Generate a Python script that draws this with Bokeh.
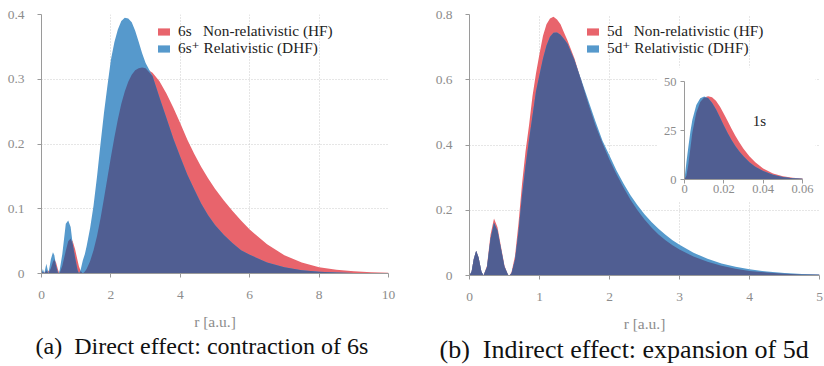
import numpy as np
from bokeh.plotting import figure
from bokeh.layouts import row
from bokeh.models import (Range1d, LinearAxis, FixedTicker, Legend, LegendItem,
                          Label, Title)
from bokeh.embed import file_html
from bokeh.resources import INLINE

# ---------------- data ----------------
# (a) 6s radial density
r_6s = [0, 0.04, 0.08, 0.14, 0.2, 0.27, 0.33, 0.37, 0.42, 0.48, 0.52, 0.6, 0.7,
        0.77, 0.84, 0.9, 0.97, 1.04, 1.08, 1.13, 1.19, 1.25, 1.3, 1.4, 1.5, 1.6,
        1.7, 1.8, 1.9, 2.0, 2.1, 2.2, 2.3, 2.4, 2.5, 2.6, 2.7, 2.8, 2.9, 3.0,
        3.2, 3.4, 3.6, 3.8, 4.0, 4.2, 4.4, 4.6, 4.8, 5.0, 5.25, 5.5, 5.75, 6.0,
        6.5, 7.0, 7.5, 8.0, 8.5, 9.0, 9.5, 10.0]
hf_6s = [0, 0.003, 0.001, 0.005, 0.004, 0.008, 0.018, 0.022, 0.017, 0.005, 0,
         0.012, 0.035, 0.05, 0.054, 0.05, 0.037, 0.02, 0.011, 0.004, 0, 0.003,
         0.007, 0.019, 0.036, 0.058, 0.085, 0.116, 0.148, 0.18, 0.21, 0.238,
         0.262, 0.281, 0.296, 0.307, 0.314, 0.317, 0.318, 0.317, 0.31, 0.297,
         0.278, 0.256, 0.232, 0.207, 0.185, 0.165, 0.147, 0.131, 0.113, 0.097,
         0.082, 0.068, 0.045, 0.028, 0.017, 0.0098, 0.0058, 0.0035, 0.002, 0.001]
dhf_6s = [0, 0.007, 0, 0.015, 0, 0.022, 0.033, 0.028, 0.012, 0, 0.004, 0.03,
          0.077, 0.082, 0.072, 0.045, 0.024, 0.005, 0, 0.006, 0.02, 0.03, 0.042,
          0.07, 0.105, 0.15, 0.2, 0.248, 0.29, 0.33, 0.357, 0.377, 0.39, 0.395,
          0.394, 0.388, 0.375, 0.358, 0.34, 0.325, 0.305, 0.272, 0.24, 0.208,
          0.18, 0.153, 0.13, 0.108, 0.09, 0.075, 0.06, 0.047, 0.036, 0.029,
          0.017, 0.0095, 0.005, 0.0028, 0.0015, 0.0008, 0.0004, 0.0002]

# (b) 5d radial density
r_5d = [0, 0.03, 0.06, 0.095, 0.13, 0.17, 0.2, 0.25, 0.3, 0.35, 0.4, 0.45, 0.5,
        0.55, 0.57, 0.6, 0.65, 0.7, 0.75, 0.8, 0.85, 0.9, 0.95, 1.0, 1.05, 1.1,
        1.15, 1.2, 1.25, 1.3, 1.35, 1.4, 1.5, 1.6, 1.7, 1.8, 1.9, 2.0, 2.1, 2.2,
        2.3, 2.4, 2.5, 2.6, 2.7, 2.8, 2.9, 3.0, 3.2, 3.4, 3.6, 3.8, 4.0, 4.25,
        4.5, 4.75, 5.0]
hf_5d = [0, 0.012, 0.05, 0.076, 0.055, 0.012, 0, 0.03, 0.125, 0.175, 0.148,
         0.088, 0.03, 0.002, 0, 0.01, 0.06, 0.16, 0.28, 0.38, 0.46, 0.55, 0.62,
         0.68, 0.735, 0.77, 0.788, 0.793, 0.785, 0.77, 0.745, 0.72, 0.665,
         0.595, 0.525, 0.46, 0.405, 0.355, 0.31, 0.27, 0.232, 0.2, 0.172,
         0.147, 0.126, 0.108, 0.093, 0.08, 0.058, 0.042, 0.03, 0.021, 0.014,
         0.009, 0.0055, 0.003, 0.002]
dhf_5d = [0, 0.012, 0.05, 0.076, 0.055, 0.012, 0, 0.026, 0.113, 0.162, 0.138,
          0.082, 0.027, 0.002, 0, 0.007, 0.048, 0.135, 0.245, 0.335, 0.415,
          0.49, 0.565, 0.615, 0.665, 0.705, 0.732, 0.744, 0.745, 0.738, 0.725,
          0.71, 0.66, 0.598, 0.535, 0.472, 0.413, 0.368, 0.322, 0.282, 0.246,
          0.215, 0.188, 0.164, 0.143, 0.125, 0.108, 0.094, 0.07, 0.051, 0.037,
          0.027, 0.019, 0.012, 0.0075, 0.0045, 0.0027]

# inset: 1s radial density
r_1s = [0, 0.001, 0.002, 0.003, 0.004, 0.006, 0.008, 0.010, 0.012, 0.014,
        0.016, 0.018, 0.020, 0.022, 0.024, 0.026, 0.028, 0.030, 0.033, 0.036,
        0.040, 0.045, 0.050, 0.055, 0.060]
hf_1s = [0, 2, 8, 16, 24, 34, 39.5, 41.8, 42.5, 42, 40.2, 37.2, 33.6, 29.7,
         25.8, 22.1, 18.7, 15.7, 11.9, 8.8, 5.6, 3.1, 1.7, 0.9, 0.45]
dhf_1s = [0, 9, 17, 24.5, 30.5, 38, 41.5, 42.3, 41.6, 39.2, 35.8, 31.8, 27.6,
          23.6, 20, 16.9, 14.2, 11.8, 8.8, 6.5, 4.3, 2.4, 1.3, 0.7, 0.35]

ticks_a_x = [0, 2, 4, 6, 8, 10]
ticks_a_y = [0, 0.1, 0.2, 0.3, 0.4]
ticks_b_x = [0, 1, 2, 3, 4, 5]
ticks_b_y = [0, 0.2, 0.4, 0.6, 0.8]
ticks_in_x = [0, 0.02, 0.04, 0.06]
ticks_in_y = [0, 25, 50]

labels_a = ["6s\u00a0\u00a0\u00a0Non-relativistic (HF)", "6s\u207a Relativistic (DHF)"]
labels_b = ["5d\u00a0\u00a0\u00a0Non-relativistic (HF)", "5d\u207a Relativistic (DHF)"]
caption_a = "(a)\u00a0\u00a0Direct effect: contraction of 6s"
caption_b = "(b)\u00a0\u00a0Indirect effect: expansion of 5d"

# ---------------- style ----------------
RED = "#E8646C"
BLUE = "#5699CC"
NAVY = "#505E92"
SERIF = "'Liberation Serif', 'DejaVu Serif', serif"
TICK_TXT = "#8c8c8c"
AXIS_COL = "#9a9a9a"
GRID_COL = "#cdcdcd"


def style_axis(ax, ticks, size="13.5px"):
    ax.ticker = FixedTicker(ticks=ticks)
    ax.axis_line_color = AXIS_COL
    ax.major_tick_line_color = AXIS_COL
    ax.major_tick_in = 0
    ax.major_tick_out = 4
    ax.minor_tick_line_color = None
    ax.major_label_text_font = SERIF
    ax.major_label_text_font_size = size
    ax.major_label_text_color = TICK_TXT
    ax.major_label_overrides = {0: "0"}


def legend_row(renderer, label, loc):
    return Legend(items=[LegendItem(label=label, renderers=[renderer])],
                  location=loc, orientation="vertical",
                  glyph_width=15, glyph_height=9, label_standoff=7, spacing=0,
                  padding=0, margin=0, border_line_color=None,
                  background_fill_alpha=0, label_height=16,
                  label_text_font=SERIF, label_text_font_size="15.3px",
                  label_text_color="#222222")


def make_panel(r, hf, dhf, xr, yr, xt, yt, fw, fh, bl, br, bt, bb, labels,
               leg_x, leg_y, caption, cap_offset, cap_size):
    p = figure(frame_width=fw, frame_height=fh, min_border_left=bl,
               min_border_right=br, min_border_top=bt, min_border_bottom=bb,
               x_range=Range1d(*xr), y_range=Range1d(*yr),
               output_backend="svg", toolbar_location=None)
    p.outline_line_color = None
    p.background_fill_color = "white"
    p.border_fill_color = "white"
    style_axis(p.xaxis[0], xt)
    style_axis(p.yaxis[0], yt)
    p.xaxis[0].major_label_standoff = 13
    p.yaxis[0].major_label_standoff = 13
    p.xaxis[0].axis_label = "r [a.u.]"
    p.xaxis[0].axis_label_text_font = SERIF
    p.xaxis[0].axis_label_text_font_size = "15.5px"
    p.xaxis[0].axis_label_text_font_style = "normal"
    p.xaxis[0].axis_label_text_color = TICK_TXT
    p.xaxis[0].axis_label_standoff = 11
    for g, t in ((p.xgrid[0], xt), (p.ygrid[0], yt)):
        g.ticker = FixedTicker(ticks=t)
        g.grid_line_color = GRID_COL
        g.grid_line_dash = "1 2"
        g.grid_line_width = 1

    hf_a = np.asarray(hf, dtype=float)
    dhf_a = np.asarray(dhf, dtype=float)
    rr = p.varea(x=r, y1=0, y2=hf_a, fill_color=RED)
    rb = p.varea(x=r, y1=0, y2=dhf_a, fill_color=BLUE)
    p.varea(x=r, y1=0, y2=np.minimum(hf_a, dhf_a), fill_color=NAVY)

    p.add_layout(legend_row(rr, labels[0], (leg_x, leg_y[0])))
    p.add_layout(legend_row(rb, labels[1], (leg_x, leg_y[1])))

    p.add_layout(Title(text=caption, align="left", text_font=SERIF,
                       text_font_size=cap_size, text_font_style="normal",
                       text_color="#111111", standoff=-3, offset=cap_offset),
                 "below")
    return p


p1 = make_panel(r_6s, hf_6s, dhf_6s, (0, 10), (0, 0.4), ticks_a_x, ticks_a_y,
                347, 259, 41, 24, 14, 93, labels_a, 115, (233, 216),
                caption_a, -6, "24px")
p2 = make_panel(r_5d, hf_5d, dhf_5d, (0, 5), (0, 0.8), ticks_b_x, ticks_b_y,
                350, 261, 57, 5, 11, 94, labels_b, 116, (235, 218),
                caption_b, -30, "26px")

# ---------------- inset (1s) inside panel b ----------------
FW, FH = 350, 261
IN_L, IN_R = 215, 333      # inset x=0 / x=0.06 in frame pixels from left
IN_B, IN_T = 96, 194       # inset y=0 / y=50 in frame pixels from bottom
sx = (ticks_in_x[-1] - ticks_in_x[0]) / (IN_R - IN_L)
sy = (ticks_in_y[-1] - ticks_in_y[0]) / (IN_T - IN_B)
p2.extra_x_ranges = {"ix": Range1d(-IN_L * sx, ticks_in_x[-1] + (FW - IN_R) * sx)}
p2.extra_y_ranges = {"iy": Range1d(-IN_B * sy, ticks_in_y[-1] + (FH - IN_T) * sy)}

# white backing of the inset
p2.quad(left=-27 * sx, right=ticks_in_x[-1] + 13 * sx, bottom=-22 * sy,
        top=ticks_in_y[-1] + 14 * sy, fill_color="white", line_color=None,
        x_range_name="ix", y_range_name="iy")
h1 = np.asarray(hf_1s, dtype=float)
d1 = np.asarray(dhf_1s, dtype=float)
p2.varea(x=r_1s, y1=0, y2=h1, fill_color=RED, x_range_name="ix", y_range_name="iy")
p2.varea(x=r_1s, y1=0, y2=d1, fill_color=BLUE, x_range_name="ix", y_range_name="iy")
p2.varea(x=r_1s, y1=0, y2=np.minimum(h1, d1), fill_color=NAVY,
         x_range_name="ix", y_range_name="iy")

iax = LinearAxis(x_range_name="ix", y_range_name="iy", fixed_location=0,
                 bounds=(ticks_in_x[0], ticks_in_x[-1]))
style_axis(iax, ticks_in_x, "12.5px")
iax.major_label_standoff = 1
p2.add_layout(iax, "below")
iay = LinearAxis(x_range_name="ix", y_range_name="iy", fixed_location=0,
                 bounds=(ticks_in_y[0], ticks_in_y[-1]))
style_axis(iay, ticks_in_y, "12.5px")
iay.major_label_standoff = 4
p2.add_layout(iay, "left")

p2.add_layout(Label(x=0.0381, y=29.6, x_range_name="ix", y_range_name="iy",
                    text="1s", text_font=SERIF, text_font_size="15px",
                    text_color="#222222", text_align="center",
                    text_baseline="middle"))

layout = row(p1, p2)
open("out.html", "w").write(file_html(layout, INLINE))
